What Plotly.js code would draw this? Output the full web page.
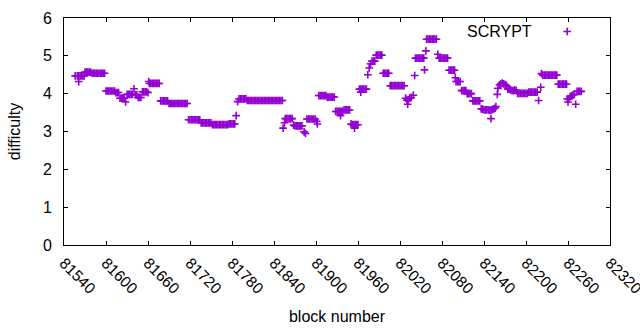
<!DOCTYPE html>
<html>
<head>
<meta charset="utf-8">
<script src="https://cdn.plot.ly/plotly-3.0.1.min.js"></script>
<style>html,body{margin:0;padding:0;background:#fff;}#chart{width:640px;height:330px;}</style>
</head>
<body>
<div id="chart"></div>
<script>
var seriesName = 'SCRYPT';
var xTickValues = [81540, 81600, 81660, 81720, 81780, 81840, 81900, 81960, 82020, 82080, 82140, 82200, 82260, 82320];
var yTickValues = [0, 1, 2, 3, 4, 5, 6];

var blocks = [
81556,81561,
81559,81561,81563,81565,81567,81569,
81570,81572,81574,81576,81578,
81580,81582,81584,81586,81588,81590,81592,81594,81596,81598,
81600,81602,81604,81606,81608,81610,81612,
81614,81616,81618,
81620,81622,81624,81626,
81628,
81630,81632,81634,81636,81638,
81640,
81642,81644,
81646,81648,81650,
81652,81654,81656,81658,
81660,81661,
81662,81664,81666,81668,81670,81672,81674,81676,
81678,81680,81682,81684,81686,81688,
81690,81692,81694,81696,81698,81700,81702,81704,81706,81708,81710,81712,81714,81716,
81718,81720,81722,81724,81726,81728,81730,81732,81734,
81736,81738,81740,81742,81744,81746,81748,81750,
81752,81754,81756,81758,81760,81762,81764,81766,81768,81770,81772,81774,
81776,81778,81780,81782,81784,
81786,81788,
81790,81792,81794,81796,81798,81800,
81802,81804,81806,81808,81810,81812,81814,81816,81818,81820,81822,81824,81826,81828,81830,81832,81834,81836,81838,81840,81842,81844,81846,81848,81850,81852,
81853,81855,
81856,81858,81860,81862,81864,81866,
81868,
81870,81872,81874,81876,81878,81880,
81883,81885,
81887,81889,81891,81893,81895,81897,81899,
81901,81902,
81904,81906,81908,81910,81912,81914,
81916,81918,81920,81922,81924,81926,
81928,81930,81932,81934,81936,81938,
81935,
81940,81942,81944,81946,81948,
81950,
81952,81954,81956,81958,81960,
81955,
81962,81964,81966,81968,81970,81972,
81964,
81974,81976,81978,
81980,81982,81984,
81986,81988,81990,81992,81994,
81996,81998,82000,82002,82004,
82006,82008,82010,82012,82014,82016,82018,82020,82022,82024,82026,
82028,82030,82032,82034,82036,
82031,82039,82041,
82042,82044,82046,82048,82050,82052,82054,
82055,82057,
82058,82060,82062,82064,82066,82068,82070,82072,
82074,
82076,82078,82080,82082,82084,82086,82088,
82090,82092,82094,82096,82098,
82099,
82100,82102,82104,82106,
82108,82110,82112,82114,
82116,82118,82120,82122,
82124,82126,82128,82130,82132,82134,
82136,82138,82140,82142,82144,82146,82148,82150,82152,82154,82156,
82150,82157,82159,82160,
82162,82164,82166,82168,82170,82172,
82174,82176,82178,82180,82182,82184,82186,
82188,82190,82192,82194,82196,82198,82200,82202,
82204,82206,82208,82210,82212,82214,82216,
82218,82221,82222,
82224,82226,82228,82230,82232,82234,82236,82238,82240,82242,82244,
82246,82248,82250,82252,82254,82256,82258,
82259,82260,82261,
82263,82265,82267,82269,
82271,
82273,82275,82277,82279
];

var difficulty = [
4.47,4.32,
4.47,4.47,4.47,4.47,4.47,4.47,
4.57,4.57,4.57,4.57,4.57,
4.54,4.54,4.54,4.54,4.54,4.54,4.54,4.54,4.54,4.54,
4.07,4.07,4.07,4.07,4.07,4.07,4.07,
4.03,4.03,4.03,
3.88,3.88,3.88,3.88,
3.78,
3.98,3.98,3.98,3.98,3.98,
4.13,
3.97,3.97,
3.90,3.90,3.90,
4.05,4.05,4.05,4.05,
4.03,4.32,
4.27,4.27,4.27,4.27,4.27,4.27,4.27,4.27,
3.81,3.81,3.81,3.81,3.81,3.81,
3.74,3.74,3.74,3.74,3.74,3.74,3.74,3.74,3.74,3.74,3.74,3.74,3.74,3.74,
3.31,3.31,3.31,3.31,3.31,3.31,3.31,3.31,3.31,
3.23,3.23,3.23,3.23,3.23,3.23,3.23,3.23,
3.18,3.18,3.18,3.18,3.18,3.18,3.18,3.18,3.18,3.18,3.18,3.18,
3.20,3.20,3.20,3.20,3.20,
3.42,3.79,
3.86,3.86,3.86,3.86,3.86,3.86,
3.82,3.82,3.82,3.82,3.82,3.82,3.82,3.82,3.82,3.82,3.82,3.82,3.82,3.82,3.82,3.82,3.82,3.82,3.82,3.82,3.82,3.82,3.82,3.82,3.82,3.82,
3.09,3.23,
3.34,3.34,3.34,3.34,3.34,3.34,
3.17,
3.15,3.15,3.15,3.15,3.15,3.15,
2.99,2.95,
3.33,3.33,3.33,3.33,3.33,3.33,3.33,
3.27,3.20,
3.95,3.95,3.95,3.95,3.95,3.95,
3.91,3.91,3.91,3.91,3.91,3.91,
3.53,3.53,3.53,3.53,3.53,3.53,
3.42,
3.57,3.57,3.57,3.57,3.57,
3.20,
3.18,3.18,3.18,3.18,3.18,
3.09,
4.12,4.12,4.12,4.12,4.12,4.12,
4.04,
4.50,4.68,4.79,
4.86,4.86,4.86,
5.02,5.02,5.02,5.02,5.02,
4.54,4.54,4.54,4.54,4.54,
4.21,4.21,4.21,4.21,4.21,4.21,4.21,4.21,4.21,4.21,4.21,
3.88,3.83,3.84,3.88,3.90,
3.72,3.96,4.48,
4.94,4.94,4.94,4.94,4.94,4.94,4.94,
4.63,5.13,
5.44,5.44,5.44,5.44,5.44,5.44,5.44,5.44,
5.04,
4.94,4.94,4.94,4.94,4.94,4.94,4.94,
4.62,4.62,4.62,4.62,4.62,
4.42,
4.32,4.32,4.32,4.32,
4.08,4.08,4.08,4.08,
4.00,4.00,4.00,4.00,
3.81,3.81,3.81,3.81,3.81,3.81,
3.60,3.59,3.57,3.57,3.58,3.57,3.56,3.57,3.58,3.60,3.62,
3.34,3.66,3.98,4.14,
4.23,4.26,4.28,4.26,4.24,4.22,
4.12,4.12,4.10,4.08,4.08,4.10,4.08,
4.01,4.01,4.01,4.01,4.01,4.01,4.01,4.01,
4.04,4.04,4.04,4.04,4.04,4.04,4.04,
3.82,4.17,4.53,
4.49,4.49,4.49,4.49,4.49,4.49,4.49,4.49,4.49,4.49,4.49,
4.25,4.25,4.25,4.25,4.25,4.25,4.25,
3.86,3.78,3.86,
3.92,3.94,3.96,3.98,
3.72,
4.06,4.06,4.06,4.06
];

var purple = '#9400d3';
var fontFam = '"Liberation Sans", Arial, sans-serif';

var trace = {
  x: blocks,
  y: difficulty,
  type: 'scatter',
  mode: 'markers',
  name: ' ',
  showlegend: true,
  marker: {symbol: 'cross-thin', size: 5.5, color: purple, line: {color: purple, width: 1.6}}
};

var layout = {
  width: 640, height: 330,
  margin: {l: 64, r: 30, t: 18, b: 85},
  paper_bgcolor: '#fff', plot_bgcolor: '#fff',
  font: {family: fontFam, size: 16, color: '#000'},
  showlegend: true,
  legend: {x: 0.885, xanchor: 'left', y: 0.94, yanchor: 'middle', bgcolor: 'rgba(0,0,0,0)', font: {family: fontFam, size: 16}},
  xaxis: {
    range: [81540, 82320], tickvals: xTickValues, ticktext: xTickValues.map(String),
    tickangle: 45, ticks: 'inside', ticklen: 4, tickcolor: '#000', mirror: 'ticks',
    showline: true, linecolor: '#000', linewidth: 1, showgrid: false, zeroline: false,
    ticklabeloverflow: 'allow', ticklabelstandoff: 2,
    tickfont: {family: fontFam, size: 15.5},
    title: {text: 'block number', font: {family: fontFam, size: 16}, standoff: 14}
  },
  yaxis: {
    range: [0, 6], tickvals: yTickValues, ticks: 'inside', ticklen: 4, tickcolor: '#000', mirror: 'ticks',
    showline: true, linecolor: '#000', linewidth: 1, showgrid: false, zeroline: false,
    ticklabelstandoff: 8,
    tickfont: {family: fontFam, size: 16},
    title: {text: 'difficulty', font: {family: fontFam, size: 16}, standoff: 18}
  },
  annotations: [{
    xref: 'paper', yref: 'paper', x: 0.86, y: 0.94, xanchor: 'right', yanchor: 'middle',
    text: seriesName, showarrow: false, font: {family: fontFam, size: 16, color: '#000'}
  }]
};

Plotly.newPlot('chart', [trace], layout, {staticPlot: true, displayModeBar: false});
</script>
</body>
</html>
